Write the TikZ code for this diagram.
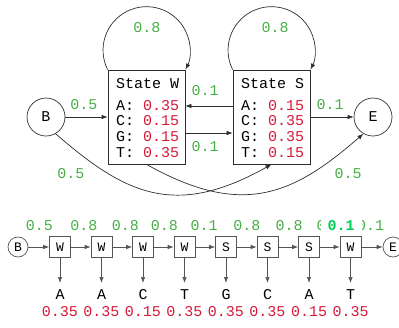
\documentclass[tikz,border=0pt]{standalone}
\usepackage{fontspec}
\setmonofont{Liberation Mono}
\usetikzlibrary{arrows.meta}
\definecolor{lblgreen}{RGB}{70,175,70}
\definecolor{hlgreen}{RGB}{0,205,90}
\definecolor{probred}{RGB}{215,25,55}
\definecolor{linegray}{RGB}{45,45,45}
\definecolor{chaingray}{RGB}{85,85,85}
\begin{document}
\begin{tikzpicture}[x=1pt, y=-1pt,
  font=\ttfamily\fontsize{15}{18}\selectfont,
  state/.style={draw=linegray, line width=0.7pt, minimum width=77pt, minimum height=94pt, inner sep=0pt},
  endpt/.style={circle, draw=linegray, line width=0.7pt, minimum size=38pt, inner sep=0pt},
  tr/.style={draw=linegray, line width=0.7pt, -{Latex[length=6pt,width=4.5pt]}},
  lbl/.style={text=lblgreen, anchor=base, inner sep=0pt},
  txt/.style={anchor=base west, inner sep=0pt},
  cell/.style={draw=chaingray, line width=0.7pt, minimum size=21pt, inner sep=0pt,
    font=\ttfamily\fontsize{13}{15}\selectfont},
  dot/.style={circle, draw=chaingray, line width=0.7pt, minimum size=20pt, inner sep=0pt,
    font=\ttfamily\fontsize{13}{15}\selectfont},
  link/.style={draw=chaingray, line width=0.7pt, -{Latex[length=6pt,width=4.5pt]}},
  sym/.style={anchor=base, inner sep=0pt},
  prob/.style={anchor=base, inner sep=0pt, text=probred}]
\useasboundingbox (0,0) rectangle (399,327);

% ---------- two-state model ----------
\node[endpt] (B) at (46,117) {B};
\node[state] (W) at (146.5,117) {};
\node[state] (S) at (271.5,117) {};
\node[endpt] (E) at (373,117) {E};

\node[txt] (Wh) at (116,88) {State W};
\node[txt] (Wa) at (116,110) {A: \textcolor{probred}{0.35}};
\node[txt] (Wc) at (116,125.7) {C: \textcolor{probred}{0.15}};
\node[txt] (Wg) at (116,141.4) {G: \textcolor{probred}{0.15}};
\node[txt] (Wt) at (116,157) {T: \textcolor{probred}{0.35}};

\node[txt] (Sh) at (241,88) {State S};
\node[txt] (Sa) at (241,110) {A: \textcolor{probred}{0.15}};
\node[txt] (Sc) at (241,125.7) {C: \textcolor{probred}{0.35}};
\node[txt] (Sg) at (241,141.4) {G: \textcolor{probred}{0.35}};
\node[txt] (St) at (241,157) {T: \textcolor{probred}{0.15}};

% self loops
\draw[tr] (W.north west) arc[start angle=206.6, end angle=-26.6, radius=43.5pt];
\draw[tr] (S.north west) arc[start angle=206.6, end angle=-26.6, radius=43.5pt];
\node[lbl] at (147,32) {0.8};
\node[lbl] at (275,32) {0.8};

% straight transitions
\draw[tr] (B) -- (W);
\node[lbl] at (84,109) {0.5};
\draw[tr] ([yshift=11pt]S.west) -- ([yshift=11pt]W.east);
\node[lbl] at (205,95) {0.1};
\draw[tr] ([yshift=-16pt]W.east) -- ([yshift=-16pt]S.west);
\node[lbl] at (205,151) {0.1};
\draw[tr] (S) -- (E);
\node[lbl] at (330,109) {0.1};

% long curved transitions
\draw[tr] (B.-60) .. controls +(70,61) and +(-96,54) .. (S.south);
\draw[tr] (W.south) .. controls +(96,54) and +(-70,61) .. (E.-120);
\node[lbl] at (71,178) {0.5};
\node[lbl] at (348,178) {0.5};

% ---------- state path ----------
\node[dot] (b0) at (18,247) {B};
\foreach \i/\x/\s/\l/\p in {1/60/W/A/0.35, 2/101.5/W/A/0.35, 3/143/W/C/0.15,
    4/184.5/W/T/0.35, 5/226/S/G/0.35, 6/267.5/S/C/0.35, 7/309/S/A/0.15, 8/350.5/W/T/0.35} {
  \node[cell] (c\i) at (\x,247) {\s};
  \coordinate (x\i) at (\x,283);
  \draw[link] (c\i) -- (x\i);
  \node[sym] (l\i) at (\x,299) {\l};
  \node[prob] (p\i) at (\x,316) {\p};
}
\node[dot] (e0) at (393,247) {E};

\draw[link] (b0) -- (c1);
\foreach \a/\b in {1/2,2/3,3/4,4/5,5/6,6/7,7/8} \draw[link] (c\a) -- (c\b);
\draw[link] (c8) -- (e0);

\node[lbl] at (39.5,230) {0.5};
\node[lbl] at (84,230) {0.8};
\node[lbl] at (125.5,230) {0.8};
\node[lbl] at (164.5,230) {0.8};
\node[lbl] at (204,230) {0.1};
\node[lbl] at (247,230) {0.8};
\node[lbl] at (289,230) {0.8};
\node[lbl] at (330,230) {0.8};
\node[lbl] at (370.5,230) {0.1};
% corrected probability on the S -> W step
\node[fill=white, inner xsep=7pt, inner ysep=3pt, text=hlgreen,
  font=\ttfamily\bfseries\fontsize{15}{18}\selectfont] (fix) at (341,226) {0.1};
\end{tikzpicture}
\end{document}
